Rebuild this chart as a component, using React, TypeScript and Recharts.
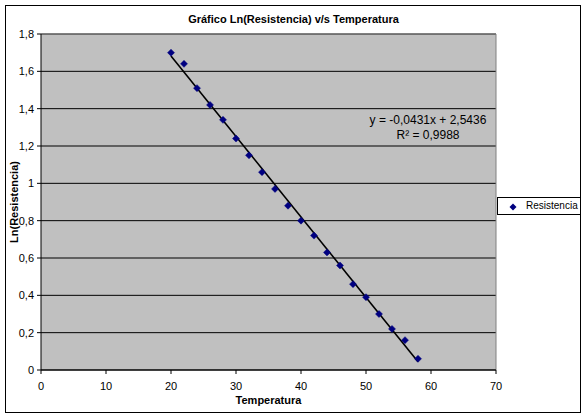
import React from 'react';
import {
  ScatterChart,
  Scatter,
  XAxis,
  YAxis,
  CartesianGrid,
  ReferenceLine,
  Legend,
} from 'recharts';

// Measured temperatures and the natural log of the resistance at each one
const temperatura = [20, 22, 24, 26, 28, 30, 32, 34, 36, 38, 40, 42, 44, 46, 48, 50, 52, 54, 56, 58];
const lnResistencia = [
  1.70, 1.64, 1.51, 1.42, 1.34, 1.24, 1.15, 1.06, 0.97, 0.88,
  0.80, 0.72, 0.63, 0.56, 0.46, 0.39, 0.30, 0.22, 0.16, 0.06,
];

const xTicks = [0, 10, 20, 30, 40, 50, 60, 70];
const yTicks = [0, 0.2, 0.4, 0.6, 0.8, 1, 1.2, 1.4, 1.6, 1.8];

// Linear trendline fitted to the series
const trendSlope = -0.0431;
const trendIntercept = 2.5436;
const trendR2 = 0.9988;
const trendFrom = 20;
const trendTo = 58;

const titleText = 'Gráfico Ln(Resistencia) v/s Temperatura';
const xTitle = 'Temperatura';
const yTitle = 'Ln(Resistencia)';
const seriesName = 'Resistencia';

const FONT = '"Liberation Sans", Arial, Helvetica, sans-serif';
const NAVY = '#000080';

const data = temperatura.map((t, i) => ({ t, v: lnResistencia[i] }));
const fit = (x: number) => trendSlope * x + trendIntercept;

const decimal = (n: number, digits?: number) =>
  (digits === undefined ? String(Math.round(n * 10) / 10) : n.toFixed(digits)).replace('.', ',');

const equationText = `y = ${decimal(trendSlope, 4)}x + ${decimal(trendIntercept, 4)}`;
const r2Text = `R² = ${decimal(trendR2, 4)}`;

const Diamond = (props: any) => {
  const { cx, cy } = props;
  if (cx == null || cy == null) return null;
  const r = 3.5;
  return (
    <polygon
      points={`${cx},${cy - r} ${cx + r},${cy} ${cx},${cy + r} ${cx - r},${cy}`}
      fill={NAVY}
      stroke={NAVY}
      strokeWidth={0.5}
    />
  );
};

const LegendBox = () => (
  <div
    style={{
      boxSizing: 'border-box',
      width: 84,
      height: 18,
      border: '1px solid #000',
      background: '#fff',
      position: 'relative',
      fontFamily: FONT,
      fontSize: 10,
      color: '#000',
    }}
  >
    <svg width={10} height={10} style={{ position: 'absolute', left: 10, top: 3.5 }}>
      <polygon points="5,1.5 8.5,5 5,8.5 1.5,5" fill={NAVY} />
    </svg>
    <span style={{ position: 'absolute', left: 28, top: 2, lineHeight: '12px', whiteSpace: 'nowrap' }}>
      {seriesName}
    </span>
  </div>
);

export default function App() {
  return (
    <div style={{ position: 'absolute', left: 0, top: 0, width: 587, height: 419, background: '#fff' }}>
      <ScatterChart
        width={587}
        height={419}
        margin={{ top: 34, right: 91, bottom: 0, left: 0 }}
      >
        <rect x={5.5} y={5.5} width={575} height={407} fill="none" stroke="#000" strokeWidth={1} />
        <text
          x={293.5}
          y={23}
          textAnchor="middle"
          fontFamily={FONT}
          fontSize={11}
          fontWeight="bold"
          fill="#000"
        >
          {titleText}
        </text>
        <CartesianGrid
          vertical={false}
          stroke="#000"
          strokeWidth={1}
          fill="#C0C0C0"
          fillOpacity={1}
        />
        <XAxis
          dataKey="t"
          type="number"
          domain={[0, 70]}
          ticks={xTicks}
          interval={0}
          height={49}
          tickSize={4}
          tickMargin={8}
          axisLine={{ stroke: '#000' }}
          tickLine={{ stroke: '#000' }}
          tick={{ fill: '#000', fontSize: 11, fontFamily: FONT }}
          label={{
            value: xTitle,
            position: 'center',
            dy: 5.5,
            fill: '#000',
            fontSize: 11,
            fontWeight: 'bold',
            fontFamily: FONT,
          }}
        />
        <YAxis
          dataKey="v"
          type="number"
          domain={[0, 1.8]}
          ticks={yTicks}
          interval={0}
          width={41}
          tickSize={4}
          tickMargin={3}
          tickFormatter={(v: number) => decimal(v)}
          axisLine={{ stroke: '#000' }}
          tickLine={{ stroke: '#000' }}
          tick={{ fill: '#000', fontSize: 11, fontFamily: FONT }}
          label={{
            value: yTitle,
            angle: -90,
            position: 'center',
            dx: -6,
            fill: '#000',
            fontSize: 11,
            fontWeight: 'bold',
            fontFamily: FONT,
          }}
        />
        <ReferenceLine y={1.8} stroke="#808080" />
        <ReferenceLine x={70} stroke="#808080" />
        <ReferenceLine
          segment={[
            { x: trendFrom, y: fit(trendFrom) },
            { x: trendTo, y: fit(trendTo) },
          ]}
          stroke="#000"
          strokeWidth={1.6}
          ifOverflow="visible"
        />
        <Scatter
          name={seriesName}
          data={data}
          shape={<Diamond />}
          fill={NAVY}
          isAnimationActive={false}
        />
        <text x={428} y={124} textAnchor="middle" fontFamily={FONT} fontSize={12} fill="#000">
          {equationText}
        </text>
        <text x={428} y={138.5} textAnchor="middle" fontFamily={FONT} fontSize={12} fill="#000">
          {r2Text}
        </text>
        <Legend
          layout="horizontal"
          align="center"
          verticalAlign="middle"
          content={() => <LegendBox />}
          wrapperStyle={{ left: 497, top: 197, width: 84, height: 18 }}
        />
      </ScatterChart>
    </div>
  );
}
